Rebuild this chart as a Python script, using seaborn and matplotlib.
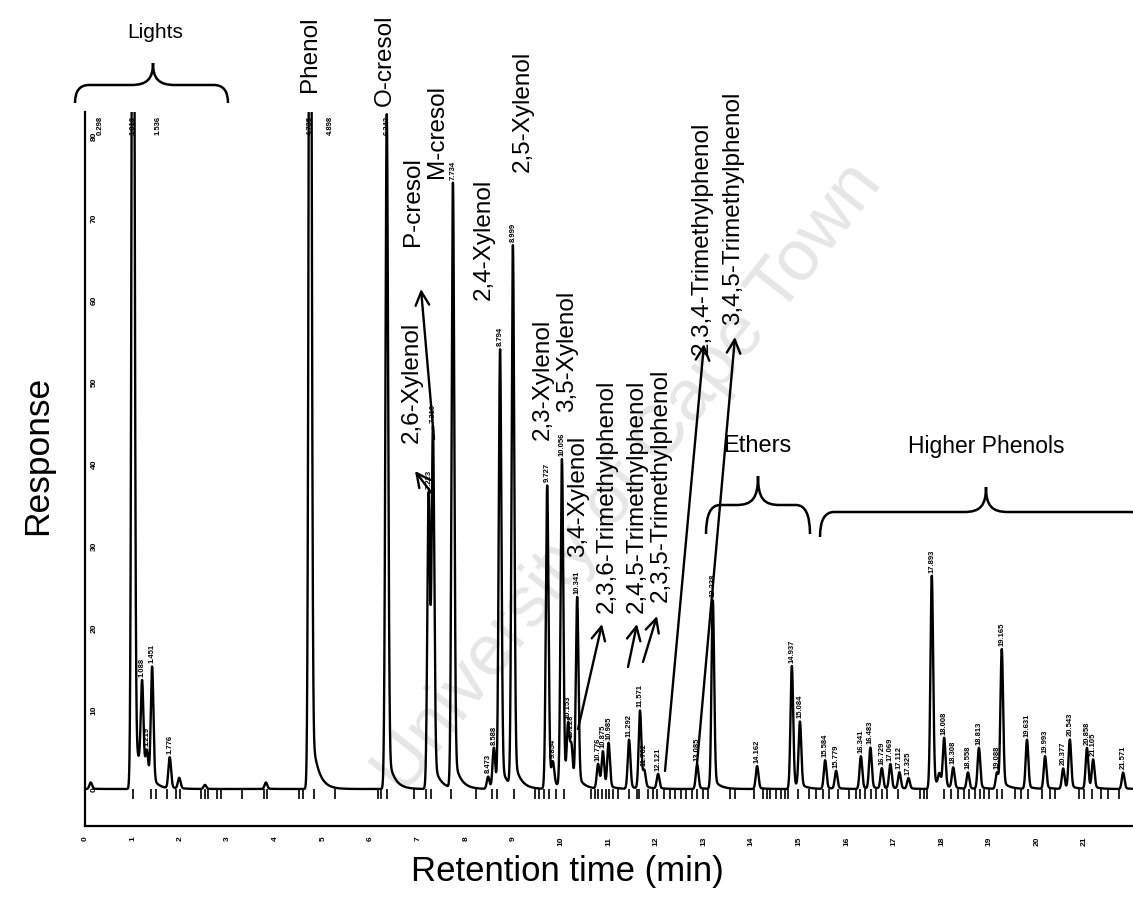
import numpy as np
import matplotlib
matplotlib.use("Agg")
import matplotlib.pyplot as plt
from matplotlib.path import Path
from matplotlib.patches import PathPatch, FancyArrowPatch
import seaborn as sns

# ---------------- data ----------------
peak_rt = [0.12, 1.01, 1.20, 1.30, 1.41, 1.78, 1.98, 2.52, 3.80,
           4.73, 6.34, 7.22, 7.31, 7.73, 8.47, 8.59, 8.72, 8.99,
           9.71, 9.83, 10.02, 10.15, 10.22, 10.34, 10.78, 10.88, 11.00,
           11.43, 11.66, 11.75, 12.04, 12.86, 13.19, 14.12, 14.85, 15.02,
           15.55, 15.78, 16.30, 16.50, 16.74, 16.92, 17.11, 17.30, 17.79,
           17.95, 18.05, 18.24, 18.55, 18.78, 19.16, 19.26, 19.79, 20.17,
           20.55, 20.69, 21.05, 21.18, 21.81]
peak_height = [0.8, 150, 11.2, 3.5, 14.3, 3.8, 1.3, 0.5, 0.8,
               150, 82.3, 36, 43, 73.8, 1.5, 5.0, 53.5, 65.9,
               37, 2.5, 40, 7, 4.5, 23, 3, 4.5, 5.5,
               6, 9.5, 2.0, 1.8, 3, 23, 2.8, 15, 8,
               3.5, 2.2, 4, 5, 2.5, 3.0, 2.0, 1.3, 26,
               1.5, 6, 2.5, 2, 5, 2, 17, 6, 4,
               2.5, 6, 5, 3.5, 2]
peak_label = ["", "1.010", "1.088", "1.219", "1.451", "1.776", "", "", "",
              "4.735", "6.343", "7.223", "7.310", "7.734", "8.473", "8.588", "8.794", "8.999",
              "9.727", "9.854", "10.056", "10.153", "10.228", "10.341", "10.776", "10.875", "10.985",
              "11.292", "11.571", "11.762", "12.121", "13.085", "13.238", "14.162", "14.937", "15.084",
              "15.584", "15.779", "16.341", "16.483", "16.729", "17.069", "17.112", "17.325", "17.893",
              "", "18.008", "18.308", "18.558", "18.813", "19.088", "19.165", "19.631", "19.993",
              "20.377", "20.543", "20.858", "21.105", "21.571"]
top_label_rt = [0.31, 1.53, 5.15]
top_label_text = ["0.298", "1.536", "4.898"]
event_marks = [1.01, 1.39, 1.49, 1.72, 1.91, 1.99, 2.44, 2.52, 2.58, 2.77, 2.86, 3.30,
               3.76, 3.82, 4.50, 4.58, 4.81, 5.25, 6.16, 6.22, 6.34, 6.91, 7.16, 7.27,
               7.69, 8.21, 8.55, 8.65, 9.01, 9.45, 9.54, 9.64, 9.75, 9.90, 10.06,
               10.63, 10.71, 10.78, 10.86, 10.95, 11.01, 11.09, 11.20, 11.43, 11.60,
               11.64, 11.83, 11.93, 12.02, 12.16, 12.29, 12.39, 12.52, 12.63, 12.75,
               12.86, 12.98, 13.09, 13.55, 13.66, 14.05, 14.24, 14.33, 14.39, 14.52,
               14.62, 14.71, 14.77, 14.98, 15.21, 15.36, 15.50, 15.63, 15.82, 16.05,
               16.20, 16.28, 16.39, 16.51, 16.62, 16.74, 16.85, 17.08, 17.54, 17.63,
               17.69, 18.05, 18.19, 18.34, 18.47, 18.57, 18.70, 18.80, 18.89, 18.99,
               19.16, 19.26, 19.54, 19.66, 19.81, 20.11, 20.27, 20.38, 20.88, 20.99,
               21.16, 21.34, 21.49, 21.72]
x_ticks = list(range(0, 22))
y_ticks = [0, 10, 20, 30, 40, 50, 60, 70, 80]

compound_names = ["Phenol", "O-cresol", "M-cresol", "P-cresol", "2,6-Xylenol",
                  "2,4-Xylenol", "2,5-Xylenol", "2,3-Xylenol", "3,5-Xylenol",
                  "3,4-Xylenol", "2,3,6-Trimethylphenol", "2,4,5-Trimethylphenol",
                  "2,3,5-Trimethylphenol", "2,3,4-Trimethylphenol",
                  "3,4,5-Trimethylphenol"]
group_names = ["Lights", "Ethers", "Higher Phenols"]

# ---------------- figure ----------------
W, H = 1133, 904
sns.set_theme(style="white")
plt.rcParams["font.family"] = ["Liberation Sans", "DejaVu Sans"]
plt.rcParams["text.color"] = "black"
plt.rcParams["xtick.color"] = "black"
plt.rcParams["ytick.color"] = "black"

fig = plt.figure(figsize=(W / 100, H / 100), dpi=100)
fig.patch.set_facecolor("white")

def fx(x):
    return x / W

def fy(y):
    return 1 - y / H

ax_l, ax_r, ax_t, ax_b = 85, 1133, 113, 827
base_pix = 790
pix_per_unit = 8.2
ax = fig.add_axes([fx(ax_l), fy(ax_b), fx(ax_r - ax_l), (ax_b - ax_t) / H])
ax.patch.set_alpha(0)

# watermark
fig.text(0.555, 0.47, "University of Cape Town", rotation=52, fontsize=52,
         color="#e6e6e6", ha="center", va="center", zorder=-5)

# trace built from the peak table
SIG, TAU, A = 0.028, 0.13, 0.06
t = np.arange(0.0, 22.0001, 0.002)
sig = np.zeros_like(t)
for t0, h in zip(peak_rt, peak_height):
    d = t - t0
    g = np.exp(-0.5 * (d / SIG) ** 2)
    tail = np.where(d > 0, np.exp(-np.clip(d, 0, None) / TAU), g)
    sig += h * ((1 - A) * g + A * tail)

sns.lineplot(x=t, y=sig, ax=ax, color="black", lw=1.7, estimator=None,
             errorbar=None, sort=False, legend=False)
ax.vlines(event_marks, -1.2, 0, color="black", lw=1.2)

ymin = -(ax_b - base_pix) / pix_per_unit
ymax = (base_pix - ax_t) / pix_per_unit
ax.set_xlim(0, (ax_r - ax_l) / 47.6)
ax.set_ylim(ymin, ymax)

for s in ["top", "right"]:
    ax.spines[s].set_visible(False)
for s in ["left", "bottom"]:
    ax.spines[s].set_color("black")
    ax.spines[s].set_linewidth(1.6)

ax.set_xticks(x_ticks)
ax.set_xticklabels([str(v) for v in x_ticks])
ax.set_yticks(y_ticks)
ax.set_yticklabels([str(v) for v in y_ticks])
ax.tick_params(axis="x", direction="out", length=4, width=1.2, pad=3,
               labelsize=6, labelrotation=90, colors="black")
ax.tick_params(axis="y", direction="in", length=3, width=1.2, pad=-9,
               labelsize=6, labelrotation=90, colors="black")
for lab in ax.get_xticklabels() + ax.get_yticklabels():
    lab.set_fontweight("bold")
ax.set_xlabel("")
ax.set_ylabel("")

# peak retention-time labels
for t0, lab in zip(peak_rt, peak_label):
    if not lab:
        continue
    top = sig[np.abs(t - t0) < 0.03].max()
    if top + 0.6 + 3.8 > ymax:
        ax.text(t0, ymax - 0.4, lab, rotation=90, fontsize=5.5, fontweight="bold",
                ha="center", va="top", color="black")
    else:
        ax.text(t0, top + 0.5, lab, rotation=90, fontsize=5.5, fontweight="bold",
                ha="center", va="bottom", color="black")
for t0, lab in zip(top_label_rt, top_label_text):
    ax.text(t0, ymax - 0.4, lab, rotation=90, fontsize=5.5, fontweight="bold",
            ha="center", va="top", color="black")

# compound labels (pixel positions: centre x, bottom y)
comp_pos = [(310, 92), (385, 106), (437, 178), (413, 246), (412, 443),
            (484, 300), (523, 172), (543, 440), (567, 412), (578, 557),
            (607, 613), (637, 613), (661, 602), (702, 355), (733, 325)]
for name, (px, py) in zip(compound_names, comp_pos):
    fig.text(fx(px), fy(py), name, rotation=90, fontsize=17.5, ha="center",
             va="bottom", color="black")

# arrows (tail -> head, pixel coords)
arrows = [((434, 440), (421, 290)), ((433, 496), (415, 472)),
          ((578, 730), (602, 625)), ((628, 668), (637, 625)),
          ((643, 663), (657, 617)), ((665, 772), (704, 345)),
          ((697, 765), (735, 338))]
for (x0, y0), (x1, y1) in arrows:
    fig.add_artist(FancyArrowPatch(
        (fx(x0), fy(y0)), (fx(x1), fy(y1)), transform=fig.transFigure,
        arrowstyle="->,head_length=0.7,head_width=0.35", lw=1.7,
        color="black", mutation_scale=14, shrinkA=0, shrinkB=0))

# braces
def brace(x0, x1, yl, ye0, ye1, xt, ytip):
    r = 14
    pts = [(x0, ye0), (x0, yl), (x0 + r, yl), (xt - 22, yl),
           (xt - 6, yl), (xt, yl - 6), (xt, ytip),
           (xt, yl - 6), (xt + 6, yl), (xt + 22, yl),
           (x1 - r, yl), (x1, yl), (x1, ye1)]
    codes = [Path.MOVETO, Path.CURVE3, Path.CURVE3, Path.LINETO,
             Path.CURVE4, Path.CURVE4, Path.CURVE4,
             Path.CURVE4, Path.CURVE4, Path.CURVE4,
             Path.LINETO, Path.CURVE3, Path.CURVE3]
    verts = [(fx(a), fy(b)) for a, b in pts]
    fig.add_artist(PathPatch(Path(verts, codes), transform=fig.transFigure,
                             fill=False, lw=1.8, edgecolor="black"))

brace(75, 228, 86, 104, 104, 153, 64)
brace(706, 810, 506, 535, 535, 758, 477)
brace(820, 1145, 513, 538, 545, 986, 488)

fig.text(fx(155), fy(33), group_names[0], fontsize=15, ha="center", va="center",
         color="black")
fig.text(fx(757), fy(446), group_names[1], fontsize=17, ha="center", va="center",
         color="black")
fig.text(fx(986), fy(446), group_names[2], fontsize=16.5, ha="center",
         va="center", color="black")

fig.text(fx(38), fy(455), "Response", rotation=90, fontsize=25.5,
         ha="center", va="center", color="black")
fig.text(fx(567), fy(872), "Retention time (min)", fontsize=25,
         ha="center", va="center", color="black")

fig.savefig("out.png", dpi=100, facecolor="white")
